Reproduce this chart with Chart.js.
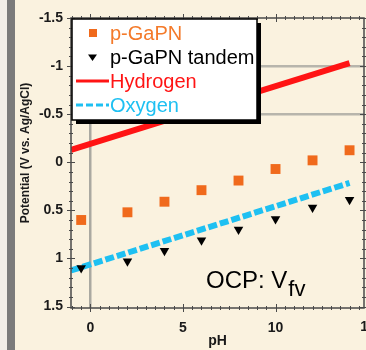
<!DOCTYPE html>
<html>
<head>
<meta charset="utf-8">
<script src="https://cdn.jsdelivr.net/npm/chart.js@4.4.1/dist/chart.umd.min.js"></script>
<style>
  html, body { margin: 0; padding: 0; background: #faf2df; }
  #wrap { width: 366px; height: 350px; }
</style>
</head>
<body>
<div id="wrap"><canvas id="potChart" width="366" height="350"></canvas></div>
<script>
// values
const phValues = [-0.5, 2, 4, 6, 8, 10, 12, 14];
const gapnValues = [0.6, 0.52, 0.41, 0.29, 0.19, 0.07, -0.02, -0.125];
const tandemValues = [1.1, 1.03, 0.92, 0.81, 0.7, 0.59, 0.47, 0.39];
const lineEnds = [-1.05, 14];
const hydrogenValues = [-0.13, -1.03];
const oxygenValues = [1.125, 0.215];
const yTickLabels = [-1.5, -1, -0.5, 0, 0.5, 1, 1.5];
const xTickLabels = [0, 5, 10];
const gridYValues = [-1, -0.5];
const gridXValues = [0];

const yTitle = 'Potential (V vs. Ag/AgCl)';
const noteText = 'OCP: V';
const noteSub = 'fv';

const BG = '#faf2df';
const ORANGE = '#f06a1c';
const RED = '#ff1414';
const CYAN = '#1ec0f2';
const AXIS = '#4a4a4a';
const FONT = '"Liberation Sans", Arial, sans-serif';

function toPoints(xs, ys) {
    return xs.map((x, i) => ({ x: x, y: ys[i] }));
}

const decorPlugin = {
    id: 'decor',
    beforeDraw(chart) {
        const ctx = chart.ctx;
        ctx.save();
        ctx.fillStyle = BG;
        ctx.fillRect(0, 0, chart.width, chart.height);
        ctx.fillStyle = '#f2eee8';
        ctx.fillRect(0, 0, 7, chart.height);
        ctx.fillStyle = '#7b7b7b';
        ctx.fillRect(7, 0, 8, chart.height);
        ctx.restore();
    },
    afterDraw(chart) {
        const { ctx, chartArea: a, scales: { x, y } } = chart;
        ctx.save();

        // frame
        ctx.strokeStyle = AXIS;
        ctx.lineWidth = 1.5;
        ctx.strokeRect(a.left, a.top, a.right - a.left, a.bottom - a.top);

        // tick marks crossing all four sides
        ctx.lineWidth = 1;
        ctx.beginPath();
        for (let i = -15; i <= 15; i++) {
            const py = Math.round(y.getPixelForValue(i / 10)) + 0.5;
            const len = i % 5 === 0 ? 4 : 2;
            ctx.moveTo(a.left - len, py); ctx.lineTo(a.left + len, py);
            ctx.moveTo(a.right - len, py); ctx.lineTo(a.right + len, py);
        }
        for (let i = -2; i <= 29; i++) {
            const v = i / 2;
            if (v < x.min || v > x.max) continue;
            const px = Math.round(x.getPixelForValue(v)) + 0.5;
            const len = i % 10 === 0 ? 4 : 2;
            ctx.moveTo(px, a.top - len); ctx.lineTo(px, a.top + len);
            ctx.moveTo(px, a.bottom - len); ctx.lineTo(px, a.bottom + len);
        }
        ctx.stroke();

        // cut-off "15" tick label at the right edge
        ctx.fillStyle = '#1a1a1a';
        ctx.font = 'bold 14px ' + FONT;
        ctx.textAlign = 'center';
        ctx.textBaseline = 'middle';
        ctx.fillText('15', x.getPixelForValue(15), a.bottom + 19);

        // y axis title
        ctx.save();
        ctx.translate(26, 153);
        ctx.rotate(-Math.PI / 2);
        ctx.font = 'bold 12px ' + FONT;
        ctx.fillText(yTitle, 0, 0);
        ctx.restore();

        // legend box with shadow
        const lx = 72, ly = 19, lw = 185, lh = 101;
        ctx.fillStyle = '#000';
        ctx.fillRect(lx + 4, ly + 4, lw, lh);
        ctx.fillStyle = '#fff';
        ctx.fillRect(lx, ly, lw, lh);
        ctx.strokeStyle = '#000';
        ctx.lineWidth = 1.5;
        ctx.strokeRect(lx, ly, lw, lh);

        const ds = chart.data.datasets;
        ctx.textAlign = 'left';
        ctx.font = '20px ' + FONT;

        // p-GaPN
        ctx.fillStyle = ds[0].backgroundColor;
        ctx.fillRect(89, 29, 8, 8);
        ctx.fillStyle = '#f47a2a';
        ctx.fillText(ds[0].label, 110, 34);

        // tandem
        ctx.fillStyle = '#000';
        ctx.beginPath();
        ctx.moveTo(88, 54.5); ctx.lineTo(97, 54.5); ctx.lineTo(92.5, 61);
        ctx.closePath();
        ctx.fill();
        ctx.fillText(ds[1].label, 110, 58);

        // Hydrogen
        ctx.strokeStyle = ds[2].borderColor;
        ctx.lineWidth = 3;
        ctx.beginPath();
        ctx.moveTo(76, 81); ctx.lineTo(109, 81);
        ctx.stroke();
        ctx.fillStyle = ds[2].borderColor;
        ctx.fillText(ds[2].label, 110, 82);

        // Oxygen
        ctx.strokeStyle = ds[3].borderColor;
        ctx.setLineDash([7, 3]);
        ctx.beginPath();
        ctx.moveTo(76, 105); ctx.lineTo(109, 105);
        ctx.stroke();
        ctx.setLineDash([]);
        ctx.fillStyle = ds[3].borderColor;
        ctx.fillText(ds[3].label, 110, 106);

        // OCP note
        ctx.fillStyle = '#000';
        ctx.textBaseline = 'alphabetic';
        ctx.font = '24px ' + FONT;
        ctx.fillText(noteText, 206, 288);
        const w = ctx.measureText(noteText).width;
        ctx.font = '22px ' + FONT;
        ctx.fillText(noteSub, 206 + w + 1, 296);

        ctx.restore();
    }
};

const ctx = document.getElementById('potChart');

new Chart(ctx, {
    type: 'scatter',
    data: {
        datasets: [{
            label: 'p-GaPN',
            data: toPoints(phValues, gapnValues),
            pointStyle: 'rect',
            pointRadius: 7,
            backgroundColor: ORANGE,
            borderColor: ORANGE,
            borderWidth: 0
        }, {
            label: 'p-GaPN tandem',
            data: toPoints(phValues, tandemValues),
            pointStyle: 'triangle',
            pointRotation: 180,
            pointRadius: 5.5,
            backgroundColor: '#000',
            borderColor: '#000',
            borderWidth: 0
        }, {
            label: 'Hydrogen',
            data: toPoints(lineEnds, hydrogenValues),
            showLine: true,
            borderColor: RED,
            backgroundColor: RED,
            borderWidth: 6,
            pointRadius: 0
        }, {
            label: 'Oxygen',
            data: toPoints(lineEnds, oxygenValues),
            showLine: true,
            borderColor: CYAN,
            backgroundColor: CYAN,
            borderWidth: 6,
            borderDash: [9, 3],
            pointRadius: 0
        }]
    },
    options: {
        responsive: false,
        devicePixelRatio: 1,
        animation: false,
        layout: { autoPadding: false, padding: { left: 0, right: 2, top: 18, bottom: 0 } },
        scales: {
            x: {
                type: 'linear',
                min: -1.05,
                max: 14.78,
                afterBuildTicks: s => { s.ticks = xTickLabels.map(v => ({ value: v })); },
                afterFit: s => { s.height = 42; },
                grid: {
                    color: c => (c.tick && gridXValues.includes(c.tick.value)) ? 'rgba(150,150,145,0.8)' : 'rgba(0,0,0,0)',
                    lineWidth: 2.5,
                    drawTicks: false
                },
                border: { display: false },
                ticks: {
                    padding: 12,
                    color: '#1a1a1a',
                    maxRotation: 0,
                    font: { family: FONT, size: 14, weight: 'bold' },
                    callback: v => String(v)
                },
                title: {
                    display: true,
                    text: 'pH',
                    color: '#1a1a1a',
                    padding: { top: 0, bottom: 0 },
                    font: { family: FONT, size: 14, weight: 'bold' }
                }
            },
            y: {
                type: 'linear',
                reverse: true,
                min: -1.5,
                max: 1.515,
                afterBuildTicks: s => { s.ticks = yTickLabels.map(v => ({ value: v })); },
                afterFit: s => { s.width = 71; },
                grid: {
                    color: c => (c.tick && gridYValues.includes(c.tick.value)) ? 'rgba(160,160,155,0.75)' : 'rgba(0,0,0,0)',
                    lineWidth: 2.5,
                    drawTicks: false
                },
                border: { display: false },
                ticks: {
                    padding: 8,
                    color: '#1a1a1a',
                    font: { family: FONT, size: 14, weight: 'bold' },
                    callback: v => String(v)
                }
            }
        },
        plugins: {
            legend: { display: false },
            tooltip: { enabled: false }
        }
    },
    plugins: [decorPlugin]
});
</script>
</body>
</html>
